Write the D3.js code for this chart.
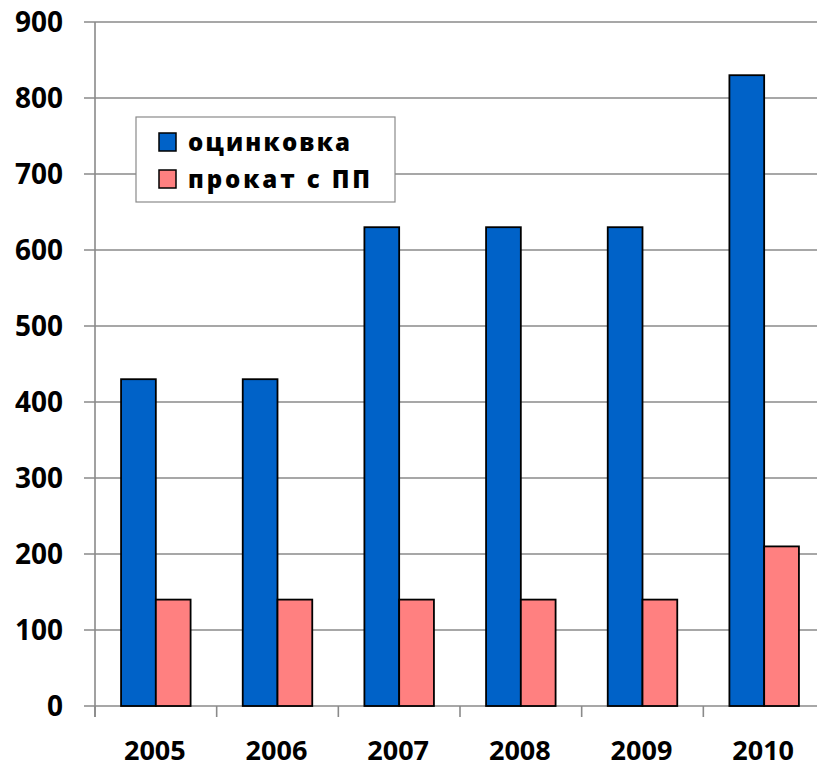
<!DOCTYPE html>
<html><head><meta charset="utf-8">
<script src="https://cdn.jsdelivr.net/npm/d3@7"></script>
<style>body{margin:0;background:#fff;} svg{display:block;}</style>
</head><body>
<script>
const categories = ["2005","2006","2007","2008","2009","2010"];
const seriesNames = ["оцинковка","прокат с ПП"];
const zinc = [430,430,630,630,630,830];
const pp = [140,140,140,140,140,210];
const yTicks = [0,100,200,300,400,500,600,700,800,900];
const colors = ["#0062C8","#FF8080"];

(function(){
const W = 817, H = 768;
const svg = d3.select("body").append("svg").attr("width",W).attr("height",H);
const pLeft = 95, pRight = 825, pTop = 22, pBottom = 706;
const x = d3.scaleBand().domain(categories).range([pLeft,pRight]).paddingInner(0).paddingOuter(0);
const y = d3.scaleLinear().domain([0,900]).range([pBottom,pTop]);
const bw = x.bandwidth()/3.5;
const font = "'Open Sans', sans-serif";

// gridlines
svg.append("g").selectAll("line").data(yTicks).join("line")
  .attr("x1",84).attr("x2",pRight).attr("y1",d=>y(d)).attr("y2",d=>y(d))
  .attr("stroke","#8a8a8a").attr("stroke-width",1.6);
// y axis line
svg.append("line").attr("x1",pLeft).attr("x2",pLeft).attr("y1",pTop).attr("y2",pBottom+11)
  .attr("stroke","#8a8a8a").attr("stroke-width",1.6);
// x ticks
svg.append("g").selectAll("line").data(categories.map((c,i)=>i).concat([6])).join("line")
  .attr("x1",i=>pLeft+i*x.bandwidth()).attr("x2",i=>pLeft+i*x.bandwidth())
  .attr("y1",pBottom).attr("y2",pBottom+11)
  .attr("stroke","#8a8a8a").attr("stroke-width",1.6);

// y labels
svg.append("g").selectAll("text").data(yTicks).join("text")
  .attr("x",63).attr("y",d=>y(d)+10).attr("text-anchor","end")
  .attr("font-family",font).attr("font-weight",700).attr("font-size",28)
  .attr("fill","#000").text(d=>d);
// x labels
svg.append("g").selectAll("text").data(categories).join("text")
  .attr("x",d=>x(d)+x.bandwidth()/2-1).attr("y",760).attr("text-anchor","middle")
  .attr("font-family",font).attr("font-weight",700).attr("font-size",27)
  .attr("fill","#000").text(d=>d);

// bars
const series = [zinc, pp];
series.forEach((vals,si)=>{
  svg.append("g").selectAll("rect").data(categories).join("rect")
    .attr("x",(d,i)=>x(d)+(x.bandwidth()-2*bw)/2+si*bw)
    .attr("y",(d,i)=>y(vals[i]))
    .attr("width",bw).attr("height",(d,i)=>y(0)-y(vals[i]))
    .attr("fill",colors[si]).attr("stroke","#000").attr("stroke-width",1.8);
});

// legend
const lg = svg.append("g");
lg.append("rect").attr("x",136).attr("y",117).attr("width",259).attr("height",85)
  .attr("fill","#fff").attr("stroke","#8a8a8a").attr("stroke-width",1.2);
const lw = [162,182];
seriesNames.forEach((n,i)=>{
  const cy = 142 + i*37;
  lg.append("rect").attr("x",159).attr("y",cy-9).attr("width",17).attr("height",18)
    .attr("fill",colors[i]).attr("stroke","#000").attr("stroke-width",1.5);
  lg.append("text").attr("x",188).attr("y",cy+9)
    .attr("font-family",font).attr("font-weight",800).attr("font-size",24)
    .attr("textLength",lw[i]).attr("lengthAdjust","spacing")
    .attr("fill","#000").text(n);
});
})();
</script>
</body></html>
